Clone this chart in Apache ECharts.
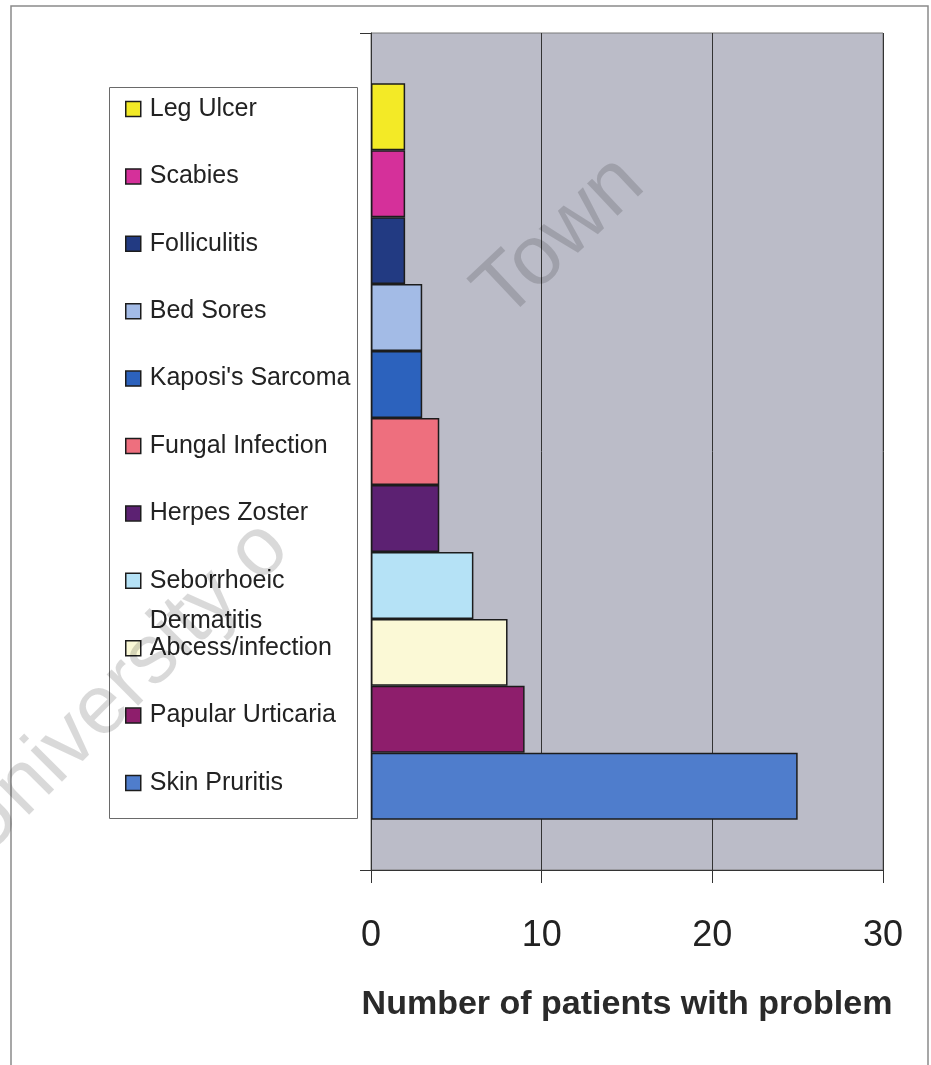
<!DOCTYPE html>
<html>
<head>
<meta charset="utf-8">
<script src="https://cdn.jsdelivr.net/npm/echarts@6/dist/echarts.min.js"></script>
<style>
  html, body { margin: 0; padding: 0; background: #ffffff; }
  #chart { width: 931px; height: 1065px; }
</style>
</head>
<body>
<div id="chart"></div>
<script>
// Skin problems, listed top to bottom as they appear in the chart
const problems = [
  'Leg Ulcer', 'Scabies', 'Folliculitis', 'Bed Sores', "Kaposi's Sarcoma",
  'Fungal Infection', 'Herpes Zoster', 'Seborrhoeic Dermatitis',
  'Abcess/infection', 'Papular Urticaria', 'Skin Pruritis'
];
const patientCounts = [2, 2, 2, 3, 3, 4, 4, 6, 8, 9, 25];
const barColors = [
  '#f3ea26', '#d5309a', '#223a82', '#a3bbe6', '#2c62bd',
  '#ee6f7e', '#5c2172', '#b5e2f6', '#fbf9d6', '#8e1e6c', '#4f7dcc'
];
const xTicks = [0, 10, 20, 30];
const xTitle = 'Number of patients with problem';

const FONT = '"Liberation Sans Narrow", "Arial Narrow", "Liberation Sans", Arial, sans-serif';
const LEGEND_LINE = 40;

const chart = echarts.init(document.getElementById('chart'), null, { renderer: 'canvas' });

const series = problems.map((name, i) => ({
  name: name,
  type: 'bar',
  data: [patientCounts[i]],
  barGap: '0%',
  barCategoryGap: '12%',
  itemStyle: { color: barColors[i], borderColor: '#1c1c1c', borderWidth: 1.5 },
  silent: true
}));

// Every legend label is three lines tall with the name on the middle line,
// so the swatch sits beside the first line and a wrapped name runs below it.
function legendLabel(name) {
  const lines = name === 'Seborrhoeic Dermatitis' ? ['Seborrhoeic', 'Dermatitis'] : [name, ''];
  return '\n' + lines[0] + '\n' + lines[1];
}

chart.setOption({
  animation: false,
  backgroundColor: '#ffffff',
  color: barColors,
  grid: {
    left: 371, right: 48, top: 33, bottom: 195,
    show: true, backgroundColor: '#bbbcc8', borderColor: '#7a7a7a', borderWidth: 1
  },
  legend: {
    orient: 'vertical',
    left: 125, top: 49,
    padding: 0,
    data: problems,
    itemWidth: 15, itemHeight: 15,
    itemGap: 67.4 - 3 * LEGEND_LINE,
    icon: 'rect',
    itemStyle: { borderColor: '#1c1c1c', borderWidth: 1.5 },
    selectedMode: false,
    formatter: legendLabel,
    textStyle: { fontFamily: FONT, fontSize: 25, color: '#222', lineHeight: LEGEND_LINE,
                 padding: [0, 0, 0, 4] }
  },
  xAxis: {
    type: 'value',
    min: xTicks[0], max: xTicks[xTicks.length - 1], interval: 10,
    name: xTitle,
    nameLocation: 'middle',
    nameGap: 118,
    nameTextStyle: { fontFamily: FONT, fontSize: 34, fontWeight: 'bold', color: '#2a2a2a' },
    axisLine: { show: true, lineStyle: { color: '#333', width: 1 } },
    axisTick: { show: true, length: 13, lineStyle: { color: '#333' } },
    axisLabel: { fontFamily: FONT, fontSize: 36, color: '#222', margin: 48 },
    splitLine: { show: true, lineStyle: { color: '#333', width: 1 } }
  },
  yAxis: {
    type: 'category',
    data: [''],
    axisLine: { show: true, lineStyle: { color: '#333', width: 1 } },
    axisTick: { show: true, length: 11, lineStyle: { color: '#333' } },
    axisLabel: { show: false },
    splitLine: { show: false }
  },
  series: series,
  graphic: [
    {
      type: 'rect', z: -1, silent: true,
      shape: { x: 11, y: 6, width: 917, height: 1100 },
      style: { fill: 'none', stroke: '#8a8a8a', lineWidth: 1.5 }
    },
    {
      // legend frame
      type: 'rect', z: 0, silent: true,
      shape: { x: 109.5, y: 87.5, width: 248, height: 731 },
      style: { fill: '#ffffff', stroke: '#6a6a6a', lineWidth: 1 }
    },
    {
      type: 'text', z: 100, silent: true,
      x: 560, y: 238, rotation: Math.PI * 0.24,
      style: { text: 'Town', font: '84px "Liberation Sans", Arial, sans-serif',
               fill: 'rgba(0,0,0,0.15)', align: 'center', verticalAlign: 'middle' }
    },
    {
      type: 'text', z: 100, silent: true,
      x: 276, y: 535, rotation: Math.PI * 0.25,
      style: { text: 'University o', font: '84px "Liberation Sans", Arial, sans-serif',
               fill: 'rgba(0,0,0,0.15)', align: 'right', verticalAlign: 'middle' }
    }
  ]
});
</script>
</body>
</html>
